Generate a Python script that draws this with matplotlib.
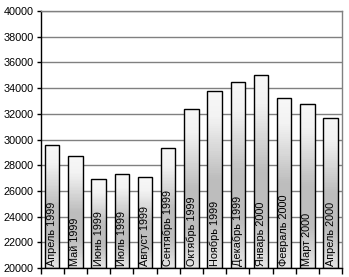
import matplotlib
matplotlib.use("Agg")
import matplotlib.pyplot as plt
import numpy as np
from matplotlib.colors import LinearSegmentedColormap

plt.rcParams['font.family'] = ['Liberation Sans', 'DejaVu Sans']

categories = ["Апрель 1999", "Май 1999", "Июнь 1999", "Июль 1999", "Август 1999",
              "Сентябрь 1999", "Октябрь 1999", "Ноябрь 1999", "Декабрь 1999",
              "Январь 2000", "Февраль 2000", "Март 2000", "Апрель 2000"]
values = [29600, 28700, 26900, 27350, 27050, 29300, 32350, 33800, 34500,
          35000, 33200, 32800, 31700]
yticks = list(range(20000, 40001, 2000))

fig = plt.figure(figsize=(3.49, 2.77), dpi=100)
ax = fig.add_axes([40.5/349, 9/277, (342.3-40.5)/349, (268-11)/277])

ymin, ymax = 20000, 40000
n = len(categories)
width = 0.62

# fraction from top of bar (0) to bottom (1)
cmap = LinearSegmentedColormap.from_list(
    "g", [(0.0, (0.97, 0.97, 0.97)), (0.15, (0.95, 0.95, 0.95)),
          (0.4, (0.80, 0.80, 0.80)), (0.5, (0.74, 0.74, 0.74)),
          (0.75, (0.74, 0.74, 0.74)), (1.0, (0.90, 0.90, 0.90))])
nslices = 80
x = np.arange(n)
for i, v in enumerate(values):
    h = (v - ymin) / nslices
    for k in range(nslices):
        frac_from_top = 1 - (k + 0.5) / nslices
        ax.bar(x[i], h * 1.02, bottom=ymin + k * h, width=width,
               color=cmap(frac_from_top), linewidth=0, zorder=2)

bars = ax.bar(x, [v - ymin for v in values], bottom=ymin, width=width,
              facecolor='none', edgecolor='black', linewidth=1.0, zorder=3)
for b, lab in zip(bars, categories):
    ax.text(b.get_x() + width / 2, ymin + 120, lab, rotation=90,
            ha='center', va='bottom', fontsize=7.8, color='black', zorder=4)

ax.set_xlim(-0.5, n - 0.5)
ax.set_ylim(ymin, ymax)
ax.set_yticks(yticks)
ax.set_yticklabels([str(t) for t in yticks], fontsize=7.8)
ax.set_xticks(np.arange(n + 1) - 0.5)
ax.set_xticklabels([])
ax.tick_params(axis='y', direction='out', length=3, width=1, pad=2)
ax.tick_params(axis='x', direction='out', length=4, width=1)
ax.yaxis.grid(True, color='#808080', linewidth=1)
ax.set_axisbelow(True)
for s in ['top', 'right']:
    ax.spines[s].set_color('#808080')
    ax.spines[s].set_linewidth(1)
for s in ['left', 'bottom']:
    ax.spines[s].set_color('black')
    ax.spines[s].set_linewidth(1)

fig.savefig("out.png", dpi=100)
